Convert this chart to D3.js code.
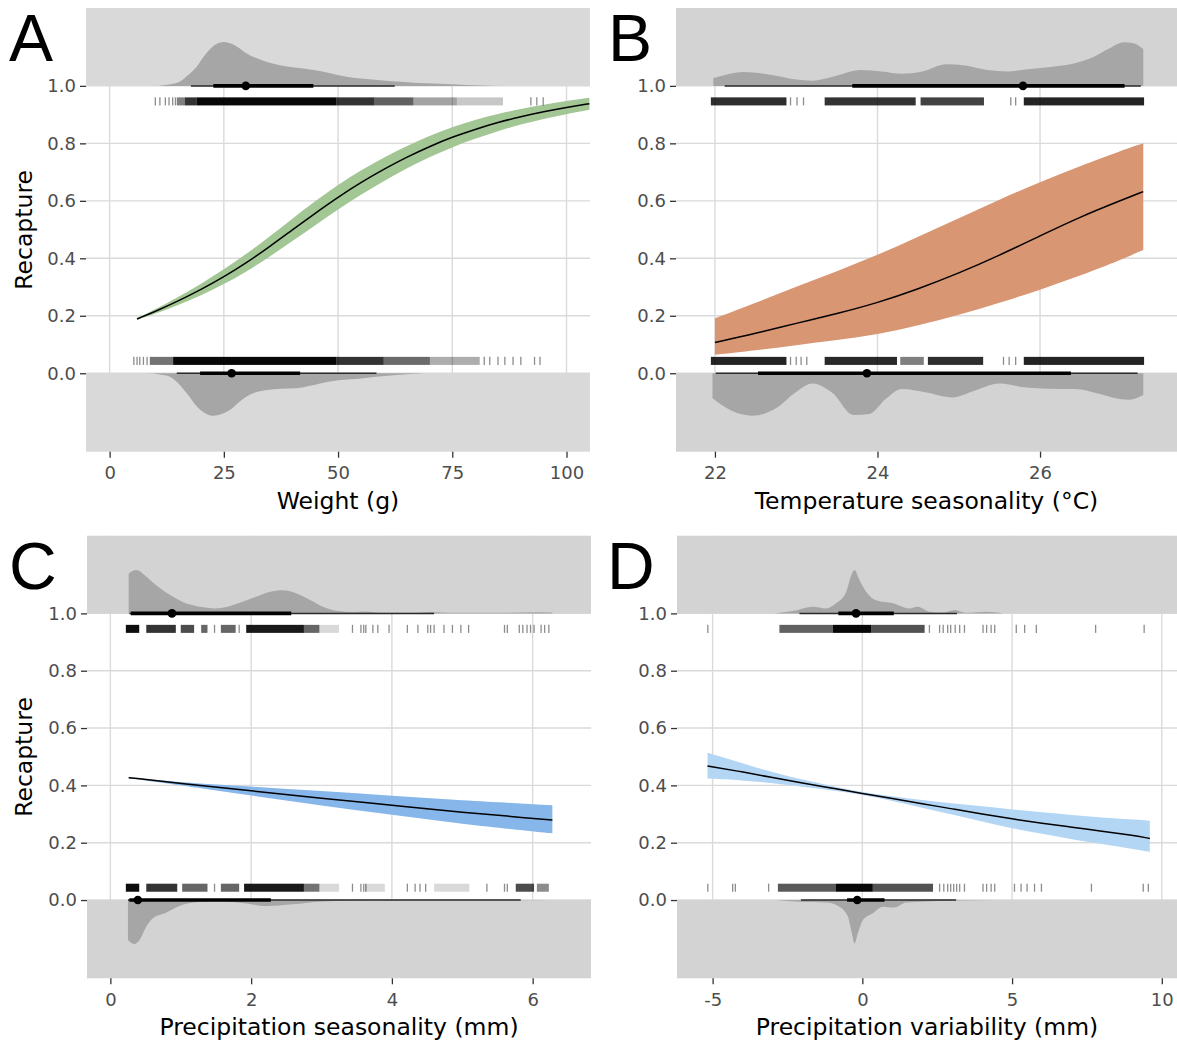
<!DOCTYPE html>
<html>
<head>
<meta charset="utf-8">
<script src="https://cdn.jsdelivr.net/npm/d3@7"></script>
<style>
  html, body { margin: 0; padding: 0; background: #fff; }
  svg text { font-family: "DejaVu Sans", sans-serif; }
</style>
</head>
<body>
<svg id="fig" width="1177" height="1044"></svg>
<script>
// ---------------------------------------------------------------
// Shared axis values
// ---------------------------------------------------------------
const yTicks = [0, 0.2, 0.4, 0.6, 0.8, 1.0];
const yDomain = [-0.273, 1.271];          // room for the marginal density strips
const rugTopY = [0.932, 0.960];           // recaptured (1) rug strip
const rugBotY = [0.029, 0.057];           // not recaptured (0) rug strip

// ---------------------------------------------------------------
// A: Weight (g)
// ---------------------------------------------------------------
const weightTicks = [0, 25, 50, 75, 100];
const weightX   = [6, 10, 15, 20, 25, 30, 35, 40, 45, 50, 55, 60, 65, 70, 75, 80, 85, 90, 95, 100, 105];
const weightFit = [0.189, 0.215, 0.251, 0.291, 0.335, 0.385, 0.440, 0.499, 0.557, 0.613, 0.664, 0.710, 0.752, 0.789, 0.822, 0.849, 0.873, 0.893, 0.910, 0.925, 0.938];
const weightLo  = [0.186, 0.207, 0.237, 0.271, 0.309, 0.354, 0.405, 0.460, 0.515, 0.570, 0.622, 0.669, 0.713, 0.752, 0.787, 0.816, 0.843, 0.866, 0.885, 0.902, 0.917];
const weightHi  = [0.192, 0.223, 0.265, 0.311, 0.361, 0.416, 0.475, 0.538, 0.599, 0.656, 0.706, 0.751, 0.791, 0.826, 0.857, 0.882, 0.903, 0.920, 0.935, 0.948, 0.959];
const weightDens1X = [10.6, 13, 15.4, 17, 19, 21, 23, 25, 27, 30, 33.5, 37.3, 41, 44.6, 48, 51.9, 55.5, 59.2, 62.8, 66.5, 72, 78, 85.4];
const weightDens1H = [0, 0.005, 0.015, 0.035, 0.066, 0.11, 0.142, 0.153, 0.145, 0.113, 0.088, 0.072, 0.063, 0.055, 0.045, 0.032, 0.025, 0.02, 0.015, 0.011, 0.007, 0.003, 0];
const weightDens0X = [8.1, 11, 13.2, 15, 16.9, 19.1, 21, 22.7, 24.5, 26.3, 28, 30, 32, 34.4, 37.5, 40.9, 44.5, 48.2, 52, 55.5, 59, 62.8, 66, 69];
const weightDens0H = [0, 0.004, 0.012, 0.035, 0.07, 0.116, 0.14, 0.148, 0.142, 0.128, 0.105, 0.081, 0.066, 0.058, 0.054, 0.052, 0.042, 0.029, 0.022, 0.017, 0.011, 0.006, 0.003, 0];
// [median, 66% low, 66% high, 95% low, 95% high]
const weightInt1 = [29.8, 22.7, 44.6, 17.8, 62.4];
const weightInt0 = [26.7, 19.8, 41.7, 14.7, 58.4];
// rug: dense stretches [from, to, opacity] and single ticks
const weightRug1Bands = [[14.7, 16.5, 0.5], [16.5, 19.1, 0.8], [19.1, 49.7, 0.97], [49.7, 58, 0.8], [58, 66.5, 0.62], [66.5, 76, 0.36], [76, 86.1, 0.22]];
const weightRug1Ticks = [10, 11, 12.2, 13, 13.8, 14.4, 92.2, 93.5, 94.9];
const weightRug0Bands = [[8.8, 13.9, 0.55], [13.9, 49.7, 0.97], [49.7, 60, 0.8], [60, 70.1, 0.58], [70.1, 81, 0.32]];
const weightRug0Ticks = [5.3, 6, 6.6, 7.4, 8.2, 82, 83.2, 85, 86.5, 88.3, 90, 93, 94.2];

// ---------------------------------------------------------------
// B: Temperature seasonality (°C)
// ---------------------------------------------------------------
const tempTicks = [22, 24, 26];
const tempX   = [22, 22.5, 23, 23.5, 24, 24.5, 25, 25.5, 26, 26.5, 27, 27.27];
const tempFit = [0.107, 0.138, 0.174, 0.207, 0.245, 0.293, 0.348, 0.410, 0.478, 0.545, 0.602, 0.632];
const tempLo  = [0.064, 0.080, 0.098, 0.115, 0.135, 0.166, 0.203, 0.245, 0.290, 0.340, 0.395, 0.429];
const tempHi  = [0.191, 0.245, 0.301, 0.355, 0.411, 0.475, 0.539, 0.605, 0.665, 0.722, 0.775, 0.800];
const tempDens1X = [21.98, 22.15, 22.35, 22.6, 22.8, 23.0, 23.2, 23.45, 23.8, 24.05, 24.3, 24.55, 24.85, 25.1, 25.35, 25.6, 25.85, 26.1, 26.4, 26.65, 26.85, 27.03, 27.15, 27.27];
const tempDens1H = [0.027, 0.04, 0.048, 0.042, 0.033, 0.022, 0.018, 0.032, 0.055, 0.05, 0.042, 0.05, 0.075, 0.07, 0.055, 0.05, 0.058, 0.065, 0.077, 0.1, 0.13, 0.152, 0.148, 0.128];
const tempDens0X = [21.97, 22.2, 22.46, 22.75, 23.0, 23.2, 23.45, 23.7, 23.9, 24.1, 24.3, 24.6, 24.92, 25.2, 25.5, 25.83, 26.1, 26.44, 26.7, 26.9, 27.1, 27.27];
const tempDens0H = [0.087, 0.13, 0.148, 0.122, 0.065, 0.036, 0.07, 0.145, 0.142, 0.09, 0.055, 0.067, 0.084, 0.06, 0.036, 0.05, 0.054, 0.055, 0.07, 0.085, 0.092, 0.076];
const tempInt1 = [25.79, 23.69, 27.04, 22.12, 27.24];
const tempInt0 = [23.87, 22.53, 26.38, 22.01, 27.2];
const tempRug1Bands = [[21.95, 22.88, 0.82], [23.35, 24.47, 0.8], [24.53, 25.31, 0.74], [25.8, 27.28, 0.86]];
const tempRug1Ticks = [22.93, 23.01, 23.09, 25.64, 25.7];
const tempRug0Bands = [[21.95, 22.88, 0.86], [23.35, 24.24, 0.84], [24.28, 24.57, 0.5], [24.62, 25.3, 0.82], [25.8, 27.28, 0.86]];
const tempRug0Ticks = [22.93, 23.0, 23.06, 23.13, 25.55, 25.62, 25.7];

// ---------------------------------------------------------------
// C: Precipitation seasonality (mm)
// ---------------------------------------------------------------
const pseasTicks = [0, 2, 4, 6];
const pseasX   = [0.26, 1, 2, 3, 4, 5, 6, 6.28];
const pseasFit = [0.427, 0.407, 0.381, 0.355, 0.331, 0.306, 0.285, 0.279];
const pseasLo  = [0.426, 0.400, 0.364, 0.330, 0.297, 0.265, 0.240, 0.233];
const pseasHi  = [0.428, 0.411, 0.396, 0.380, 0.364, 0.347, 0.335, 0.331];
const pseasDens1X = [0.26, 0.37, 0.5, 0.62, 0.75, 0.89, 1.02, 1.16, 1.3, 1.49, 1.65, 1.82, 2.05, 2.26, 2.45, 2.6, 2.75, 2.9, 3.02, 3.24, 3.45, 3.62, 3.9, 4.3, 4.55, 4.9, 5.53, 5.97, 6.28];
const pseasDens1H = [0.139, 0.151, 0.13, 0.104, 0.08, 0.058, 0.041, 0.029, 0.022, 0.017, 0.022, 0.035, 0.056, 0.075, 0.081, 0.074, 0.058, 0.039, 0.023, 0.008, 0.005, 0.007, 0.002, 0.002, 0.005, 0.002, 0.002, 0.004, 0.003];
const pseasDens0X = [0.25, 0.34, 0.41, 0.51, 0.6, 0.79, 0.98, 1.22, 1.55, 1.93, 2.21, 2.59, 2.97, 3.68, 5.8, 6.23];
const pseasDens0H = [0.139, 0.153, 0.141, 0.093, 0.064, 0.044, 0.021, 0.008, 0.003, 0.012, 0.021, 0.015, 0.006, 0.001, 0.001, 0];
const pseasInt1 = [0.875, 0.29, 2.57, 0.27, 4.6];
const pseasInt0 = [0.39, 0.27, 2.28, 0.25, 5.83];
const pseasRug1Bands = [[0.22, 0.41, 0.95], [0.51, 0.93, 0.8], [1.0, 1.19, 0.7], [1.29, 1.38, 0.6], [1.57, 1.78, 0.6], [1.93, 2.75, 0.9], [2.75, 2.97, 0.6], [2.97, 3.25, 0.15]];
const pseasRug1Ticks = [1.48, 1.83, 3.44, 3.56, 3.6, 3.63, 3.73, 3.8, 3.96, 4.22, 4.37, 4.51, 4.55, 4.6, 4.74, 4.86, 4.98, 5.09, 5.6, 5.64, 5.81, 5.86, 5.92, 5.97, 6.02, 6.12, 6.17, 6.23];
const pseasRug0Bands = [[0.22, 0.41, 0.95], [0.51, 0.95, 0.8], [1.02, 1.38, 0.6], [1.57, 1.83, 0.6], [1.9, 2.75, 0.9], [2.75, 2.97, 0.55], [2.97, 3.25, 0.15], [3.62, 3.9, 0.15], [4.6, 5.1, 0.15], [5.76, 6.02, 0.7], [6.06, 6.23, 0.45]];
const pseasRug0Ticks = [1.48, 3.44, 3.56, 3.6, 3.63, 4.22, 4.33, 4.4, 4.48, 5.35, 5.6, 5.64];

// ---------------------------------------------------------------
// D: Precipitation variability (mm)
// ---------------------------------------------------------------
const pvarTicks = [-5, 0, 5, 10];
const pvarX   = [-5.17, -4, -3, -2, -1, 0, 1, 2, 3, 4, 5, 6, 7, 8, 9, 9.6];
const pvarFit = [0.468, 0.447, 0.427, 0.408, 0.390, 0.372, 0.354, 0.336, 0.318, 0.300, 0.283, 0.268, 0.254, 0.240, 0.226, 0.215];
const pvarLo  = [0.424, 0.418, 0.408, 0.395, 0.383, 0.368, 0.346, 0.322, 0.298, 0.274, 0.250, 0.231, 0.212, 0.195, 0.179, 0.168];
const pvarHi  = [0.514, 0.478, 0.445, 0.420, 0.397, 0.376, 0.362, 0.349, 0.338, 0.327, 0.316, 0.306, 0.297, 0.288, 0.281, 0.277];
const pvarDens1X = [-2.94, -2.32, -1.65, -1.21, -0.88, -0.54, -0.37, -0.26, -0.12, 0.13, 0.46, 1.02, 1.57, 1.85, 2.24, 2.69, 3.08, 3.47, 4.14, 4.7];
const pvarDens1H = [0, 0.008, 0.023, 0.017, 0.035, 0.075, 0.133, 0.151, 0.122, 0.075, 0.046, 0.035, 0.017, 0.023, 0.006, 0.003, 0.012, 0.002, 0.006, 0];
const pvarDens0X = [-2.88, -2.1, -1.21, -0.77, -0.48, -0.35, -0.26, -0.15, 0.02, 0.35, 0.69, 1.07, 1.46, 2.13, 3.25, 4.36];
const pvarDens0H = [0, 0.006, 0.009, 0.023, 0.058, 0.116, 0.151, 0.116, 0.07, 0.046, 0.023, 0.026, 0.009, 0.005, 0.002, 0];
const pvarInt1 = [-0.21, -0.8, 1.05, -2.1, 3.16];
const pvarInt0 = [-0.17, -0.51, 0.74, -2.05, 3.13];
const pvarRug1Bands = [[-2.77, -0.99, 0.62], [-0.99, 0.29, 0.97], [0.29, 2.08, 0.68]];
const pvarRug1Ticks = [-5.16, 2.24, 2.58, 2.7, 2.85, 2.95, 3.1, 3.25, 3.41, 4.03, 4.15, 4.3, 4.42, 5.14, 5.42, 5.81, 7.79, 9.41];
const pvarRug0Bands = [[-2.82, -0.88, 0.65], [-0.88, 0.35, 0.97], [0.35, 2.36, 0.68]];
const pvarRug0Ticks = [-5.16, -4.33, -4.24, -3.13, 2.58, 2.72, 2.85, 2.95, 3.05, 3.15, 3.25, 3.41, 4.03, 4.15, 4.3, 4.42, 5.08, 5.3, 5.5, 5.75, 5.98, 7.65, 9.38, 9.55];

// ---------------------------------------------------------------
// Panel table
// ---------------------------------------------------------------
const zip = (a, b) => a.map((v, i) => [v, b[i]]);
const panels = [
  { tag: "A", tagX: 9, title: "Weight (g)", showY: true,
    left: 86, right: 590, top: 8, bottom: 451.7, xDomain: [-5.17, 105.14], ticks: weightTicks,
    band: "#d9d9d9", ribbon: "#a2c694",
    x: weightX, fit: weightFit, lo: weightLo, hi: weightHi,
    d1: zip(weightDens1X, weightDens1H), d0: zip(weightDens0X, weightDens0H),
    i1: weightInt1, i0: weightInt0,
    r1b: weightRug1Bands, r1t: weightRug1Ticks, r0b: weightRug0Bands, r0t: weightRug0Ticks },
  { tag: "B", tagX: 608, title: "Temperature seasonality (°C)", showY: false,
    left: 676, right: 1177, top: 8, bottom: 451.7, xDomain: [21.521, 27.685], ticks: tempTicks,
    band: "#d3d3d3", ribbon: "#d89673",
    x: tempX, fit: tempFit, lo: tempLo, hi: tempHi,
    d1: zip(tempDens1X, tempDens1H), d0: zip(tempDens0X, tempDens0H),
    i1: tempInt1, i0: tempInt0,
    r1b: tempRug1Bands, r1t: tempRug1Ticks, r0b: tempRug0Bands, r0t: tempRug0Ticks },
  { tag: "C", tagX: 9, title: "Precipitation seasonality (mm)", showY: true,
    left: 87, right: 591, top: 535.7, bottom: 978.3, xDomain: [-0.332, 6.829], ticks: pseasTicks,
    band: "#d3d3d3", ribbon: "#87b7ea",
    x: pseasX, fit: pseasFit, lo: pseasLo, hi: pseasHi,
    d1: zip(pseasDens1X, pseasDens1H), d0: zip(pseasDens0X, pseasDens0H),
    i1: pseasInt1, i0: pseasInt0,
    r1b: pseasRug1Bands, r1t: pseasRug1Ticks, r0b: pseasRug0Bands, r0t: pseasRug0Ticks },
  { tag: "D", tagX: 607, title: "Precipitation variability (mm)", showY: false,
    left: 677, right: 1177, top: 535.7, bottom: 978.3, xDomain: [-6.189, 10.507], ticks: pvarTicks,
    band: "#d3d3d3", ribbon: "#b4d6f5",
    x: pvarX, fit: pvarFit, lo: pvarLo, hi: pvarHi,
    d1: zip(pvarDens1X, pvarDens1H), d0: zip(pvarDens0X, pvarDens0H),
    i1: pvarInt1, i0: pvarInt0,
    r1b: pvarRug1Bands, r1t: pvarRug1Ticks, r0b: pvarRug0Bands, r0t: pvarRug0Ticks }
];

const svg = d3.select("#fig");
svg.append("rect").attr("width", 1177).attr("height", 1044).attr("fill", "#fff");

function drawPanel(p) {
  const x = d3.scaleLinear().domain(p.xDomain).range([p.left, p.right]);
  const y = d3.scaleLinear().domain(yDomain).range([p.bottom, p.top]);
  const g = svg.append("g");

  // major grid
  g.selectAll("line.vgrid").data(p.ticks).join("line").attr("class", "vgrid")
    .attr("x1", d => x(d)).attr("x2", d => x(d))
    .attr("y1", p.top).attr("y2", p.bottom)
    .attr("stroke", "#dadada").attr("stroke-width", 1.4);
  g.selectAll("line.hgrid").data(yTicks).join("line").attr("class", "hgrid")
    .attr("x1", p.left).attr("x2", p.right)
    .attr("y1", d => y(d)).attr("y2", d => y(d))
    .attr("stroke", "#dadada").attr("stroke-width", 1.4);

  // marginal strips
  g.append("rect").attr("x", p.left).attr("width", p.right - p.left)
    .attr("y", y(yDomain[1])).attr("height", y(1) - y(yDomain[1])).attr("fill", p.band);
  g.append("rect").attr("x", p.left).attr("width", p.right - p.left)
    .attr("y", y(0)).attr("height", y(yDomain[0]) - y(0)).attr("fill", p.band);

  // half-eye densities: recaptured above 1, not recaptured below 0
  const areaUp = d3.area().x(d => x(d[0])).y0(y(1)).y1(d => y(1 + d[1])).curve(d3.curveMonotoneX);
  const areaDown = d3.area().x(d => x(d[0])).y0(y(0)).y1(d => y(0 - d[1])).curve(d3.curveMonotoneX);
  g.append("path").attr("d", areaUp(p.d1)).attr("fill", "#a6a6a6");
  g.append("path").attr("d", areaDown(p.d0)).attr("fill", "#a6a6a6");

  // point + intervals
  [[p.i1, 1], [p.i0, 0]].forEach(([iv, lvl]) => {
    const yy = y(lvl);
    g.append("line").attr("x1", x(iv[3])).attr("x2", x(iv[4])).attr("y1", yy).attr("y2", yy)
      .attr("stroke", "#2a2a2a").attr("stroke-width", 1.5);
    g.append("line").attr("x1", x(iv[1])).attr("x2", x(iv[2])).attr("y1", yy).attr("y2", yy)
      .attr("stroke", "#000").attr("stroke-width", 3.6);
    g.append("circle").attr("cx", x(iv[0])).attr("cy", yy).attr("r", 4.3).attr("fill", "#000");
  });

  // fitted probability and confidence ribbon
  const pts = p.x.map((v, i) => ({ x: v, f: p.fit[i], lo: p.lo[i], hi: p.hi[i] }));
  g.append("path")
    .attr("d", d3.area().x(d => x(d.x)).y0(d => y(d.lo)).y1(d => y(d.hi)).curve(d3.curveBasis)(pts))
    .attr("fill", p.ribbon);
  g.append("path")
    .attr("d", d3.line().x(d => x(d.x)).y(d => y(d.f)).curve(d3.curveBasis)(pts))
    .attr("fill", "none").attr("stroke", "#000").attr("stroke-width", 1.5);

  // rugs
  const rug = (bands, ticks, yr) => {
    g.append("g").selectAll("rect").data(bands).join("rect")
      .attr("x", d => x(d[0])).attr("width", d => Math.max(1.2, x(d[1]) - x(d[0])))
      .attr("y", y(yr[1])).attr("height", y(yr[0]) - y(yr[1]))
      .attr("fill", "#000").attr("fill-opacity", d => d[2]);
    g.append("g").selectAll("line").data(ticks).join("line")
      .attr("x1", d => x(d)).attr("x2", d => x(d))
      .attr("y1", y(yr[1])).attr("y2", y(yr[0]))
      .attr("stroke", "#000").attr("stroke-opacity", 0.45).attr("stroke-width", 1.3);
  };
  rug(p.r1b, p.r1t, rugTopY);
  rug(p.r0b, p.r0t, rugBotY);

  // axes
  const yAxis = d3.axisLeft(y).tickValues(yTicks).tickFormat(d3.format(".1f")).tickSize(6).tickPadding(4);
  const ya = g.append("g").attr("transform", `translate(${p.left},0)`).call(yAxis);
  const xAxis = d3.axisBottom(x).tickValues(p.ticks).tickFormat(d => String(d)).tickSize(6).tickPadding(9);
  const xa = g.append("g").attr("transform", `translate(0,${p.bottom})`).call(xAxis);
  [ya, xa].forEach(a => {
    a.select(".domain").remove();
    a.selectAll(".tick line").attr("stroke", "#333").attr("stroke-width", 1.3);
    a.selectAll(".tick text").attr("fill", "#4d4d4d").style("font-size", "18px")
      .style("font-family", "'DejaVu Sans', sans-serif");
  });

  // titles
  g.append("text").attr("x", (p.left + p.right) / 2).attr("y", p.bottom + 57)
    .attr("text-anchor", "middle").style("font-size", "23.5px").attr("fill", "#000")
    .text(p.title);
  if (p.showY) {
    g.append("text")
      .attr("transform", `translate(32,${(p.top + p.bottom) / 2}) rotate(-90)`)
      .attr("text-anchor", "middle").style("font-size", "23.5px").attr("fill", "#000")
      .text("Recapture");
  }
  // panel letter
  g.append("text").attr("x", p.tagX).attr("y", p.top + 53)
    .style("font-family", "'Liberation Sans', Arial, sans-serif").style("font-size", "66px").attr("fill", "#000")
    .text(p.tag);
}

panels.forEach(drawPanel);
</script>
</body>
</html>
